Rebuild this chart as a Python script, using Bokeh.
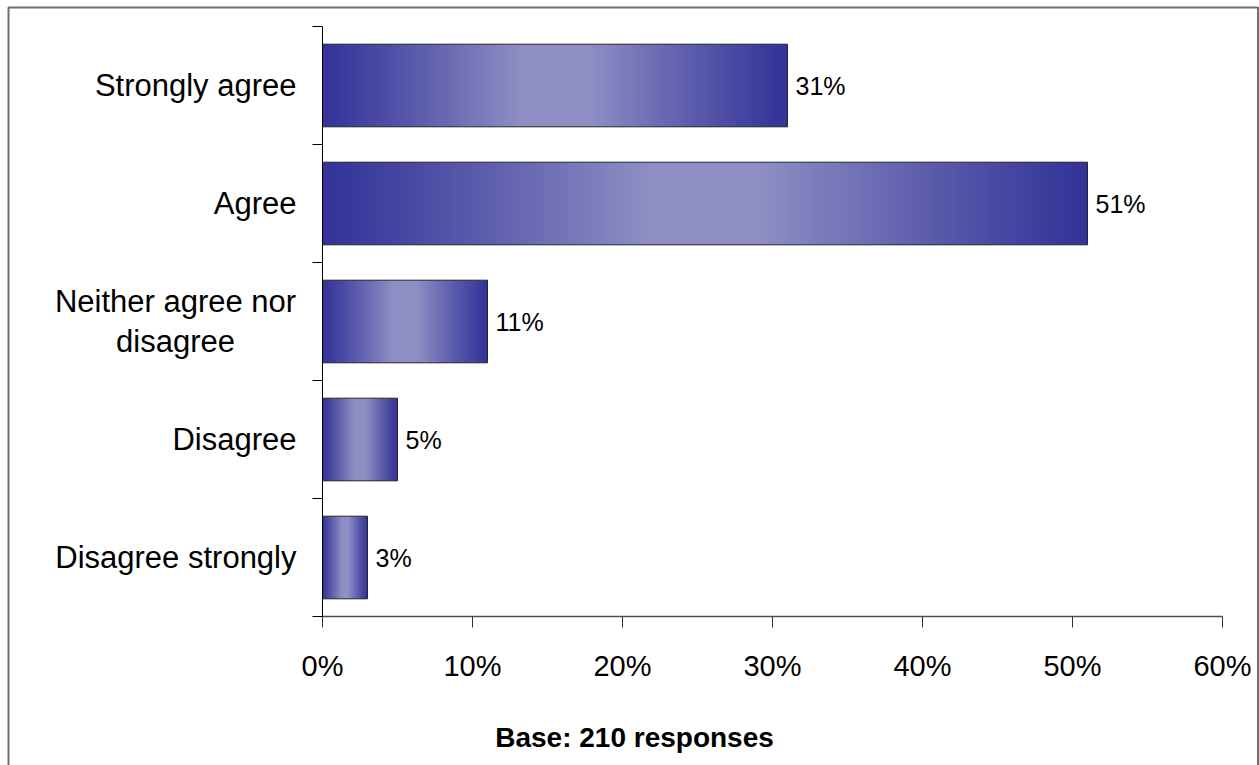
import numpy as np
from bokeh.plotting import figure
from bokeh.models import Range1d, FixedTicker, PrintfTickFormatter
from bokeh.core.properties import value
from bokeh.embed import file_html
from bokeh.resources import INLINE

# ---- data -------------------------------------------------------------
categories = [
    "Strongly agree",
    "Agree",
    "Neither agree nor\ndisagree",
    "Disagree",
    "Disagree strongly",
]
shares = [31, 51, 11, 5, 3]          # percent of responses
x_ticks = [0, 10, 20, 30, 40, 50, 60]
base_note = "Base: 210 responses"

# ---- page / plot-area geometry (pixels) -------------------------------
W, H = 1259, 765
AX_LEFT, AX_RIGHT = 322, 1222        # where the first and last x tick sit
AX_TOP, AX_BOTTOM = 26, 616          # top and bottom of the category band
n = len(categories)
x_per_px = (x_ticks[-1] - x_ticks[0]) / (AX_RIGHT - AX_LEFT)
y_per_px = n / (AX_BOTTOM - AX_TOP)


def px_to_x(px):
    return x_ticks[0] + (px - AX_LEFT) * x_per_px


def py_to_y(py):
    return n - (py - AX_TOP) * y_per_px


FONT = value("Liberation Sans")

p = figure(
    width=W, height=H,
    x_range=Range1d(px_to_x(0), px_to_x(W)),
    y_range=Range1d(py_to_y(H), py_to_y(0)),
    min_border=0, toolbar_location=None, output_backend="svg", title=None,
)
p.xgrid.visible = False
p.ygrid.visible = False
p.outline_line_color = None
p.background_fill_color = "white"
p.border_fill_color = "white"

# ---- bars with a dark-light-dark horizontal gradient -------------------
centers = [n - i - 0.5 for i in range(n)]
bar_h = 0.70
EDGE = np.array([51, 51, 153], dtype=float)
MID = np.array([143, 143, 197], dtype=float)
COLS = 256
t = (np.arange(COLS) + 0.5) / COLS
d = np.minimum(t, 1 - t)                       # distance from nearest end
s = np.minimum(1.0, d / 0.43) ** 1.1
rgb = EDGE[None, :] + (MID - EDGE)[None, :] * s[:, None]
rgba = np.zeros((1, COLS, 4), dtype=np.uint8)
rgba[0, :, :3] = np.round(rgb).astype(np.uint8)
rgba[0, :, 3] = 255
grad = rgba.view(np.uint32).reshape(1, COLS)

p.image_rgba(
    image=[grad] * n,
    x=[0] * n,
    y=[c - bar_h / 2 for c in centers],
    dw=shares,
    dh=[bar_h] * n,
)
p.hbar(y=centers, left=0, right=shares, height=bar_h,
       fill_color=None, line_color="#262626", line_width=1)

# value labels at the end of each bar
p.text(x=shares, y=centers, text=[f"{v}%" for v in shares],
       x_offset=8, text_align="left", text_baseline="middle",
       text_font=FONT, text_font_size=value("25px"), text_color="#000000")

# category labels: single-line ones right-aligned, wrapped one centred
single = [(c, y) for c, y in zip(categories, centers) if "\n" not in c]
multi = [(c, y) for c, y in zip(categories, centers) if "\n" in c]
p.text(x=[0] * len(single), y=[y for _, y in single],
       text=[c for c, _ in single], x_offset=-26,
       text_align="right", text_baseline="middle",
       text_font=FONT, text_font_size=value("31px"), text_color="#000000")
p.text(x=[0] * len(multi), y=[y for _, y in multi],
       text=[c for c, _ in multi], x_offset=-147,
       text_align="center", text_baseline="middle", text_line_height=1.15,
       text_font=FONT, text_font_size=value("31px"), text_color="#000000")

# ---- axes crossing at the origin --------------------------------------
xa = p.xaxis[0]
xa.fixed_location = 0
xa.bounds = (x_ticks[0], x_ticks[-1])
xa.ticker = FixedTicker(ticks=x_ticks, minor_ticks=[])
xa.formatter = PrintfTickFormatter(format="%d%%")
xa.major_tick_out = 11
xa.major_tick_in = 0
xa.major_label_standoff = 22
xa.major_label_text_font = "Liberation Sans"
xa.major_label_text_font_size = "29px"
xa.major_label_text_color = "#000000"
xa.axis_line_color = "#4d4d4d"
xa.axis_line_width = 1.5
xa.major_tick_line_color = "#333333"
xa.minor_tick_line_color = None

ya = p.yaxis[0]
ya.fixed_location = 0
ya.bounds = (0, n)
ya.ticker = FixedTicker(ticks=[], minor_ticks=list(range(n + 1)))
ya.major_tick_line_color = None
ya.minor_tick_out = 10
ya.minor_tick_in = 0
ya.minor_tick_line_color = "#000000"
ya.axis_line_color = "#000000"
ya.major_label_text_font_size = "0px"

# footnote
p.text(x=[px_to_x(634)], y=[py_to_y(737)], text=[base_note],
       text_align="center", text_baseline="middle",
       text_font=FONT, text_font_size=value("28px"),
       text_font_style="bold", text_color="#000000")

# outer chart frame (open at the bottom edge of the page)
p.line(x=[px_to_x(8), px_to_x(8), px_to_x(1257.5), px_to_x(1257.5)],
       y=[py_to_y(H + 5), py_to_y(7), py_to_y(7), py_to_y(H + 5)],
       line_color="#6e6e6e", line_width=2)

open("out.html", "w").write(file_html(p, INLINE))
